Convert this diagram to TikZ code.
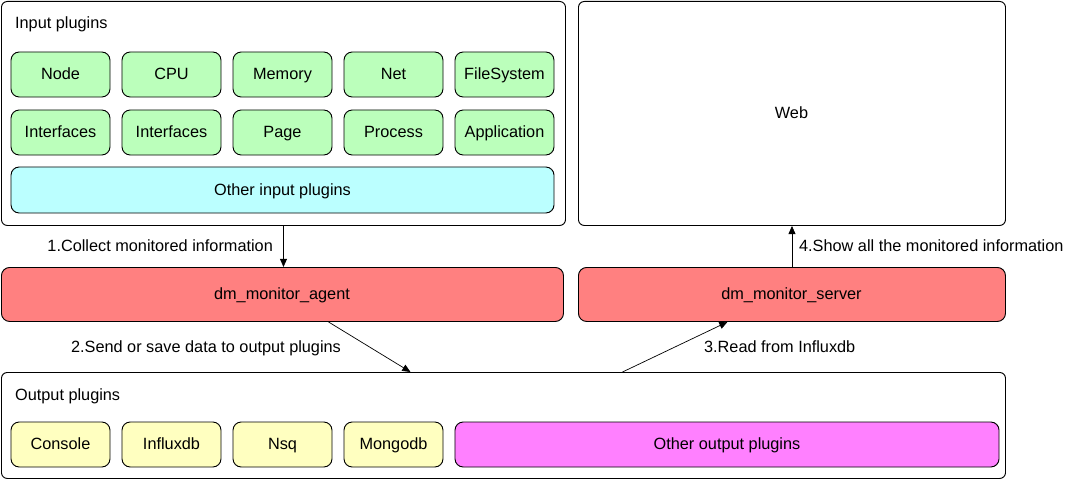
\documentclass[tikz,border=0pt]{standalone}
\usepackage{fontspec}
\setmainfont{Liberation Sans}
\usetikzlibrary{arrows.meta}

\definecolor{ingreen}{HTML}{BBFFBB}
\definecolor{incyan}{HTML}{BBFFFF}
\definecolor{agentred}{HTML}{FF8080}
\definecolor{outyellow}{HTML}{FFFFC0}
\definecolor{outpink}{HTML}{FF80FF}

\tikzset{
    frame/.style={draw, line width=0.8pt, rounded corners=5pt, anchor=north west, inner sep=0pt},
    plugin/.style={draw, line width=0.8pt, rounded corners=7pt, minimum width=2.97cm, minimum height=1.35cm},
    flow/.style={-{Triangle[length=7pt,width=6pt]}, line width=0.6pt},
    txt/.style={font=\fontsize{13.9}{16}\selectfont, text height=0.9em, text depth=0.03em}
}

\begin{document}
\begin{tikzpicture}[x=0.03cm, y=-0.03cm, every node/.append style={txt}]
        \useasboundingbox (0,0) rectangle (1069,480);

        % containers
        \node[frame, minimum width=16.92cm, minimum height=6.72cm] (input) at (1,1) {};
        \node[frame, minimum width=12.81cm, minimum height=6.72cm] (web) at (578,1) {};
        \node[frame, minimum width=30.12cm, minimum height=3.18cm] (output) at (1,372) {};
        \node[anchor=west] (intitle) at (11,23.5) {Input plugins};
        \node[anchor=west] (outtitle) at (11,395.5) {Output plugins};
        \node (webtext) at (791.5,113.5) {Web};

        % input plugins
        \foreach \name/\i in {Node/0, CPU/1, Memory/2, Net/3, FileSystem/4}
            \node[plugin, fill=ingreen] (inA\i) at (60.5+111*\i,74.5) {\name};
        \foreach \name/\i in {Interfaces/0, Interfaces/1, Page/2, Process/3, Application/4}
            \node[plugin, fill=ingreen] (inB\i) at (60.5+111*\i,132.5) {\name};
        \node[plugin, fill=incyan, minimum width=16.29cm, minimum height=1.38cm] (inother) at (282.5,190) {Other input plugins};

        % output plugins
        \foreach \name/\i in {Console/0, Influxdb/1, Nsq/2, Mongodb/3}
            \node[plugin, fill=outyellow] (out\i) at (60.5+111*\i,444.5) {\name};
        \node[plugin, fill=outpink, minimum width=16.32cm] (outother) at (727,444.5) {Other output plugins};

        % agent and server
        \node[frame, fill=agentred, rounded corners=7pt, minimum width=16.86cm, minimum height=1.62cm] (agent) at (1,267) {};
        \node (agenttext) at (282,294.5) {dm\_monitor\_agent};
        \node[frame, fill=agentred, rounded corners=7pt, minimum width=12.81cm, minimum height=1.62cm] (server) at (578,267) {};
        \node (servertext) at (791.5,294.5) {dm\_monitor\_server};

        % flows
        \draw[flow] (input.south) -- (input.south |- agent.north);
        \draw[flow] ([xshift=1.38cm]agent.south) -- ([xshift=-2.79cm]output.north);
        \draw[flow] ([xshift=3.57cm]output.north) -- ([xshift=-1.935cm]server.south);
        \draw[flow] (server.north) -- (server.north |- web.south);

        \node[anchor=east] (lbl1) at (277,246.5) {1.Collect monitored information};
        \node (lbl2) at (206,347.5) {2.Send or save data to output plugins};
        \node[anchor=west] (lbl3) at (700,347.5) {3.Read from Influxdb};
        \node[anchor=west] (lbl4) at (795,246.5) {4.Show all the monitored information};
    \end{tikzpicture}
\end{document}
